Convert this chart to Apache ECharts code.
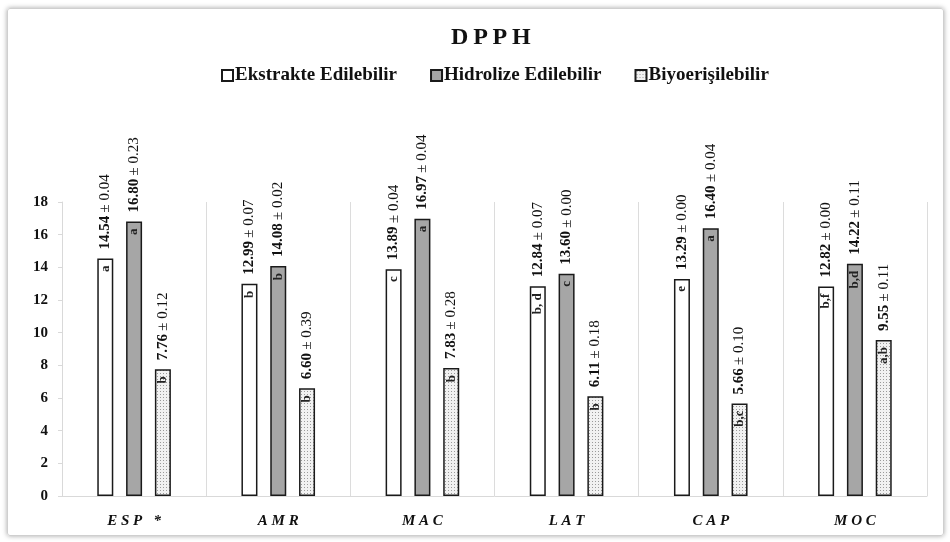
<!DOCTYPE html>
<html>
<head>
<meta charset="utf-8">
<script src="https://cdn.jsdelivr.net/npm/echarts@6/dist/echarts.min.js"></script>
<style>
  html, body { margin: 0; padding: 0; background: #fff; }
  #frame {
    position: absolute; left: 7px; top: 8px; width: 935px; height: 526px;
    border: 1px solid #cfcfcf; border-radius: 3px;
    box-shadow: 0 0 5px rgba(0, 0, 0, 0.35);
  }
  #chart { position: absolute; left: 0; top: 0; width: 950px; height: 542px; }
</style>
</head>
<body>
<div id="frame"></div>
<div id="chart"></div>
<script>
// samples
const categories = ['ESP *', 'AMR', 'MAC', 'LAT', 'CAP', 'MOC'];
const seriesNames = ['Ekstrakte Edilebilir', 'Hidrolize Edilebilir', 'Biyoerişilebilir'];

// means
const extractable = [14.54, 12.99, 13.89, 12.84, 13.29, 12.82];
const hydrolysable = [16.80, 14.08, 16.97, 13.60, 16.40, 14.22];
const bioaccessible = [7.76, 6.60, 7.83, 6.11, 5.66, 9.55];

// standard deviations
const extractableSd = [0.04, 0.07, 0.04, 0.07, 0.00, 0.00];
const hydrolysableSd = [0.23, 0.02, 0.04, 0.00, 0.04, 0.11];
const bioaccessibleSd = [0.12, 0.39, 0.28, 0.18, 0.10, 0.11];

// significance letters
const extractableLetters = ['a', 'b', 'c', 'b, d', 'e', 'b,f'];
const hydrolysableLetters = ['a', 'b', 'a', 'c', 'a', 'b,d'];
const bioaccessibleLetters = ['b', 'b', 'b', 'b', 'b,c', 'a,b'];

const yTicks = { min: 0, max: 18, interval: 2 };

const serif = '"Liberation Serif", "DejaVu Serif", serif';

// stipple pattern for the third series
let dots = document.createElement('canvas');
dots.width = 3; dots.height = 3;
let dctx = dots.getContext('2d');
dctx.fillStyle = '#f1f1f1';
dctx.fillRect(0, 0, 3, 3);
dctx.fillStyle = '#9a9a9a';
dctx.fillRect(1, 1, 1, 1);

let fills = ['#ffffff', '#a6a6a6', { image: dots, repeat: 'repeat' }];
let means = [extractable, hydrolysable, bioaccessible];
let sds = [extractableSd, hydrolysableSd, bioaccessibleSd];
let letters = [extractableLetters, hydrolysableLetters, bioaccessibleLetters];

let series = [];
for (let i = 0; i < 3; i++) {
  series.push({
    name: seriesNames[i],
    type: 'bar',
    xAxisIndex: 0,
    barWidth: 16,
    barGap: '80%',
    itemStyle: { color: fills[i], borderColor: '#1a1a1a', borderWidth: 1.5 },
    label: {
      show: true,
      position: 'top',
      distance: 9,
      rotate: 90,
      align: 'left',
      verticalAlign: 'middle',
      formatter: function (p) {
        return '{v|' + means[i][p.dataIndex].toFixed(2) + '} {e|± ' + sds[i][p.dataIndex].toFixed(2) + '}';
      },
      rich: {
        v: { fontFamily: serif, fontSize: 15, fontWeight: 'bold', color: '#111' },
        e: { fontFamily: serif, fontSize: 15, color: '#111' }
      }
    },
    data: means[i]
  });
}
// letters inside the bars, drawn on a twin axis so they sit on the same bars
for (let i = 0; i < 3; i++) {
  series.push({
    name: seriesNames[i] + ' harf',
    type: 'bar',
    xAxisIndex: 1,
    barWidth: 16,
    barGap: '80%',
    silent: true,
    itemStyle: { color: 'rgba(0,0,0,0)' },
    label: {
      show: true,
      position: 'insideTop',
      distance: 7,
      rotate: 90,
      align: 'right',
      verticalAlign: 'middle',
      fontFamily: serif,
      fontSize: 13,
      fontWeight: 'bold',
      color: '#222',
      formatter: function (p) { return letters[i][p.dataIndex]; }
    },
    data: means[i]
  });
}

let option = {
  backgroundColor: 'transparent',
  animation: false,
  title: {
    text: 'D\u2009P\u2009P\u2009H',
    left: 446,
    top: 21,
    textStyle: { fontFamily: serif, fontSize: 24, fontWeight: 'bold', color: '#111' }
  },
  legend: {
    data: seriesNames,
    top: 61,
    left: 216,
    icon: 'rect',
    itemWidth: 11,
    itemHeight: 11,
    itemGap: 33,
    textStyle: { fontFamily: serif, fontSize: 19, fontWeight: 'bold', color: '#111', padding: [0, 0, 0, -3] }
  },
  grid: { left: 62, right: 23, top: 202, bottom: 46 },
  xAxis: [
    {
      type: 'category',
      data: categories,
      axisLine: { lineStyle: { color: '#d9d9d9', width: 1 } },
      axisTick: { show: false },
      splitLine: { show: true, lineStyle: { color: '#dcdcdc', width: 1 } },
      axisLabel: {
        margin: 18,
        fontFamily: serif, fontSize: 15, fontWeight: 'bold', fontStyle: 'italic', color: '#111',
        formatter: function (name) { return name.split('').join(' '); }
      }
    },
    {
      type: 'category',
      data: categories,
      show: false
    }
  ],
  yAxis: {
    type: 'value',
    min: yTicks.min,
    max: yTicks.max,
    interval: yTicks.interval,
    axisLine: { show: true, lineStyle: { color: '#d9d9d9' } },
    axisTick: { show: true, length: 4, lineStyle: { color: '#d9d9d9' } },
    splitLine: { show: false },
    axisLabel: { margin: 14, fontFamily: serif, fontSize: 15, fontWeight: 'bold', color: '#111' }
  },
  series: series
};

let myChart = echarts.init(document.getElementById('chart'));
myChart.setOption(option);
</script>
</body>
</html>
